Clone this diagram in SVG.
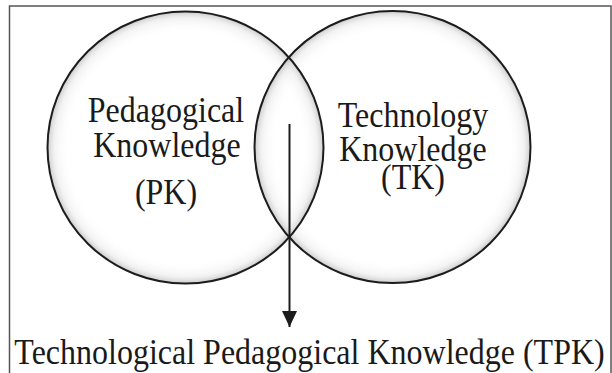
<svg xmlns="http://www.w3.org/2000/svg" width="612" height="373" viewBox="0 0 612 373">
  <style>
    .lbl { font-family: "Liberation Serif", "Times New Roman", serif; font-size: 32px; fill: #1a1a1a; text-anchor: middle; }
    .ring { fill: none; stroke: #1c1c1c; stroke-width: 2; }
    .shade { fill: url(#glow); stroke: none; }
    .frame { fill: none; stroke: #555; stroke-width: 1.5; }
  </style>
  <defs>
    <radialGradient id="glow" cx="0.5" cy="0.5" r="0.5">
      <stop offset="0.84" stop-color="#ffffff" stop-opacity="0"/>
      <stop offset="0.95" stop-color="#e6e6e6" stop-opacity="0.5"/>
      <stop offset="1" stop-color="#bdbdbd" stop-opacity="0.8"/>
    </radialGradient>
    <marker id="arrow" viewBox="0 0 16 15" refX="16" refY="7.5" markerWidth="16" markerHeight="15" markerUnits="userSpaceOnUse" orient="auto">
      <path d="M0,0 L16,7.5 L0,15 Z" fill="#1c1c1c"/>
    </marker>
  </defs>
  <rect width="612" height="373" fill="#ffffff"/>
  <path class="frame" d="M9.5,373 V6 H611 V373"/>

  <g id="pk">
    <ellipse class="shade" cx="185.5" cy="147.5" rx="138" ry="136"/>
  </g>
  <g id="tk">
    <ellipse class="shade" cx="392.5" cy="147" rx="138" ry="136"/>
  </g>
  <g id="rings">
    <ellipse class="ring" cx="185.5" cy="147.5" rx="138" ry="136"/>
    <ellipse class="ring" cx="392.5" cy="147" rx="138" ry="136"/>
  </g>
  <g id="pk-label">
    <text class="lbl" transform="translate(166,122) scale(1,1.12)">Pedagogical</text>
    <text class="lbl" transform="translate(167,157) scale(1,1.12)">Knowledge</text>
    <text class="lbl" transform="translate(166,204) scale(1,1.12)">(PK)</text>
  </g>
  <g id="tk-label">
    <text class="lbl" transform="translate(413,127) scale(1,1.12)">Technology</text>
    <text class="lbl" transform="translate(413,161) scale(1,1.12)">Knowledge</text>
    <text class="lbl" transform="translate(413,189) scale(1,1.12)">(TK)</text>
  </g>

  <g id="connectors">
    <line x1="289.5" y1="124" x2="289.5" y2="327" stroke="#1c1c1c" stroke-width="2" marker-end="url(#arrow)"/>
  </g>

  <g id="tpk">
    <text class="lbl" transform="translate(309.5,364) scale(1,1.12)">Technological Pedagogical Knowledge (TPK)</text>
  </g>
</svg>
